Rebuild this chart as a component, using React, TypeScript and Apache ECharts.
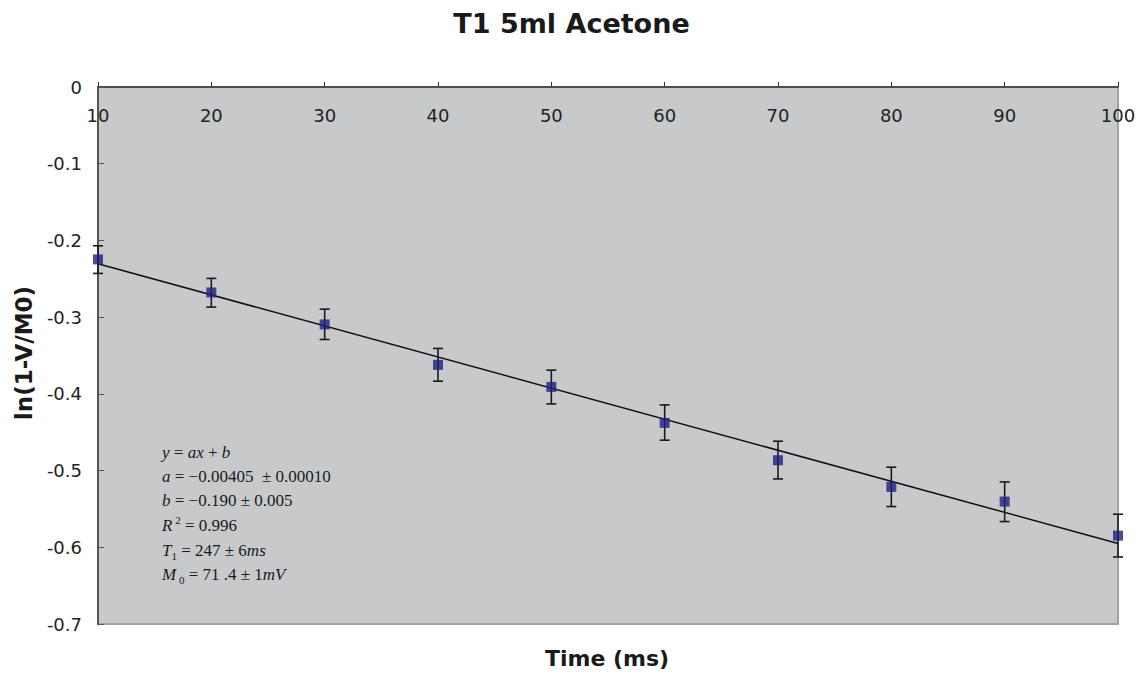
import React, { useEffect, useRef } from "react";
import * as echarts from "echarts";

const titleText = "T1 5ml Acetone";
const xAxisTitle = "Time (ms)";
const yAxisTitle = "ln(1-V/M0)";

const xVals = [10, 20, 30, 40, 50, 60, 70, 80, 90, 100];
const yVals = [-0.2247, -0.2678, -0.3095, -0.3622, -0.3909, -0.4378, -0.4865, -0.5213, -0.5404, -0.5848];
const errHigh = [-0.207, -0.2495, -0.2896, -0.3408, -0.3691, -0.4144, -0.4617, -0.4956, -0.5148, -0.5569];
const errLow = [-0.243, -0.2869, -0.3291, -0.3835, -0.4131, -0.4604, -0.5109, -0.5469, -0.5665, -0.6126];

const fitX = [10, 100];
const fitY = [-0.2305, -0.595];

const equationLines = [
  "{i|y} = {i|ax} + {i|b}",
  "{i|a} = −0.00405  ± 0.00010",
  "{i|b} = −0.190 ± 0.005",
  "{i|R}{sup| 2} = 0.996",
  "{i|T}{sub|1} = 247 ± 6{i|ms}",
  "{i|M}{sub| 0} = 71 .4 ± 1{i|mV}",
];
const equationY = [452, 476, 500, 525, 550, 574];

export default function App() {
  const ref = useRef<HTMLDivElement>(null);
  useEffect(() => {
    if (!ref.current) return;
    const chart = echarts.init(ref.current, undefined, { renderer: "svg" });
    const tickFont = { fontSize: 18, fontFamily: "DejaVu Sans", color: "#222" };
    const serif = "Liberation Serif";
    const option: any = {
      animation: false,
      backgroundColor: "#ffffff",
      grid: {
        left: 98,
        right: 25,
        top: 87,
        bottom: 50,
        containLabel: false,
        outerBoundsMode: "none",
        show: true,
        backgroundColor: "#C8C9CB",
        borderColor: "#A3A3A3",
        borderWidth: 2,
      },
      xAxis: {
        type: "value",
        position: "top",
        min: 10,
        max: 100,
        interval: 10,
        axisLine: { show: true, onZero: false, lineStyle: { color: "#333", width: 1.5 } },
        axisTick: { show: true, inside: false, length: 5, lineStyle: { color: "#333", width: 1 } },
        axisLabel: { inside: true, margin: 19, ...tickFont },
        splitLine: { show: false },
      },
      yAxis: {
        type: "value",
        min: -0.7,
        max: 0,
        interval: 0.1,
        axisLine: { show: true, onZero: false, lineStyle: { color: "#555", width: 2 } },
        axisTick: { show: true, inside: true, length: 6, lineStyle: { color: "#555", width: 1 } },
        axisLabel: {
          margin: 16,
          ...tickFont,
          formatter: (v: number) => (Math.abs(v) < 1e-9 ? "0" : v.toFixed(1)),
        },
        splitLine: { show: false },
      },
      series: [
        {
          type: "line",
          data: fitX.map((x, i) => [x, fitY[i]]),
          showSymbol: false,
          symbol: "none",
          lineStyle: { color: "#111", width: 1.5 },
          z: 2,
          silent: true,
        },
        {
          type: "custom",
          data: xVals.map((x, i) => [x, errLow[i], errHigh[i]]),
          clip: false,
          z: 3,
          renderItem: (params: any, api: any) => {
            const x = api.value(0);
            const lo = api.coord([x, api.value(1)]);
            const hi = api.coord([x, api.value(2)]);
            const w = 5;
            const style = { stroke: "#1a1a1a", lineWidth: 1.6 };
            return {
              type: "group",
              children: [
                { type: "line", shape: { x1: lo[0], y1: lo[1], x2: hi[0], y2: hi[1] }, style },
                { type: "line", shape: { x1: lo[0] - w, y1: lo[1], x2: lo[0] + w, y2: lo[1] }, style },
                { type: "line", shape: { x1: hi[0] - w, y1: hi[1], x2: hi[0] + w, y2: hi[1] }, style },
              ],
            };
          },
        },
        {
          type: "scatter",
          data: xVals.map((x, i) => [x, yVals[i]]),
          symbol: "rect",
          symbolSize: 10,
          clip: false,
          itemStyle: { color: "#1F2180" },
          z: 4,
        },
      ],
      graphic: [
        {
          type: "text",
          x: 571.5,
          y: 23.5,
          style: {
            text: titleText,
            font: "bold 27px 'DejaVu Sans'",
            fill: "#1a1a1a",
            align: "center",
            verticalAlign: "middle",
          },
        },
        {
          type: "text",
          x: 607,
          y: 658,
          style: {
            text: xAxisTitle,
            font: "bold 22px 'DejaVu Sans'",
            fill: "#1a1a1a",
            align: "center",
            verticalAlign: "middle",
          },
        },
        {
          type: "text",
          x: 24,
          y: 353,
          rotation: Math.PI / 2,
          style: {
            text: yAxisTitle,
            font: "bold 23px 'DejaVu Sans'",
            fill: "#1a1a1a",
            align: "center",
            verticalAlign: "middle",
          },
        },
        ...equationLines.map((t, i) => ({
          type: "text",
          x: 162,
          y: equationY[i],
          z: 10,
          style: {
            text: t,
            fontSize: 17,
            fontFamily: serif,
            fill: "#1a1a1a",
            align: "left",
            verticalAlign: "middle",
            lineHeight: 22,
            rich: {
              i: { fontStyle: "italic", fontSize: 17, fontFamily: serif, lineHeight: 22, fill: "#1a1a1a" },
              sup: { fontSize: 11, fontFamily: serif, verticalAlign: "top", lineHeight: 22, fill: "#1a1a1a" },
              sub: { fontSize: 11, fontFamily: serif, verticalAlign: "bottom", lineHeight: 22, fill: "#1a1a1a" },
            },
          },
        })),
      ],
    };
    chart.setOption(option);
    return () => chart.dispose();
  }, []);
  return (
    <div
      ref={ref}
      style={{ position: "fixed", left: 0, top: 0, width: 1143, height: 674 }}
    />
  );
}
